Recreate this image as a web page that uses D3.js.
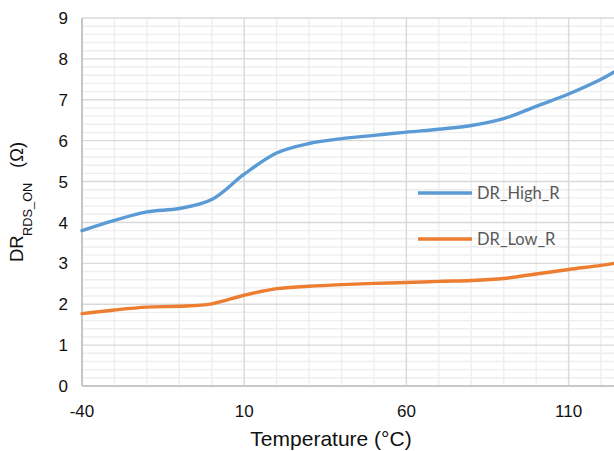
<!DOCTYPE html>
<html>
<head>
<meta charset="utf-8">
<script src="https://cdn.jsdelivr.net/npm/d3@7"></script>
<style>
  html, body { margin: 0; padding: 0; background: #fff; }
  svg { display: block; }
</style>
</head>
<body>
<div id="chart"></div>
<script>
// Temperature (°C) sample points
var temps = [-40, -30, -20, -10, 0, 10, 20, 30, 40, 50, 60, 70, 80, 90, 100, 110, 120, 124];
// DR_High_R (Ω)
var highR = [3.8, 4.05, 4.26, 4.34, 4.56, 5.18, 5.7, 5.93, 6.05, 6.13, 6.21, 6.28, 6.37, 6.54, 6.84, 7.14, 7.5, 7.68];
// DR_Low_R (Ω)
var lowR = [1.77, 1.86, 1.93, 1.95, 2.01, 2.22, 2.38, 2.44, 2.48, 2.51, 2.53, 2.56, 2.58, 2.63, 2.74, 2.85, 2.95, 3.0];

var xTicks = [-40, 10, 60, 110];
var yTicks = [0, 1, 2, 3, 4, 5, 6, 7, 8, 9];

var series = [
  { name: 'DR_High_R', values: highR, color: '#5b9bd5' },
  { name: 'DR_Low_R', values: lowR, color: '#ed7d31' }
];

var W = 614, H = 451;
var margin = { left: 82, right: 0, top: 18, bottom: 65 };
var FONT = 'Liberation Sans, Arial, sans-serif';

var svg = d3.select('#chart').append('svg')
  .attr('width', W)
  .attr('height', H);

var x = d3.scaleLinear().domain([-40, 124]).range([margin.left, W - margin.right]);
var y = d3.scaleLinear().domain([0, 9]).range([H - margin.bottom, margin.top]);

// minor grid
var minorX = d3.range(-40, 125, 10).filter(function(v) { return xTicks.indexOf(v) < 0; });
var minorY = d3.range(0, 9.001, 0.2).filter(function(v) { return Math.abs(v - Math.round(v)) > 0.01; });

var grid = svg.append('g');
grid.selectAll('line.mx').data(minorX).join('line')
  .attr('x1', function(d) { return x(d); }).attr('x2', function(d) { return x(d); })
  .attr('y1', y(0)).attr('y2', y(9))
  .attr('stroke', '#eeeeee').attr('stroke-width', 1.4);
grid.selectAll('line.my').data(minorY).join('line')
  .attr('y1', function(d) { return y(d); }).attr('y2', function(d) { return y(d); })
  .attr('x1', x(-40)).attr('x2', W)
  .attr('stroke', '#eeeeee').attr('stroke-width', 1.4);

// major grid
grid.selectAll('line.Mx').data(xTicks).join('line')
  .attr('x1', function(d) { return x(d); }).attr('x2', function(d) { return x(d); })
  .attr('y1', y(0)).attr('y2', y(9))
  .attr('stroke', '#d9d9d9').attr('stroke-width', 1.4);
grid.selectAll('line.My').data(yTicks).join('line')
  .attr('y1', function(d) { return y(d); }).attr('y2', function(d) { return y(d); })
  .attr('x1', x(-40)).attr('x2', W)
  .attr('stroke', '#d9d9d9').attr('stroke-width', 1.4);

// axis lines
svg.append('line')
  .attr('x1', x(-40)).attr('x2', x(-40)).attr('y1', y(0)).attr('y2', y(9))
  .attr('stroke', '#bfbfbf').attr('stroke-width', 1.6);
svg.append('line')
  .attr('x1', x(-40)).attr('x2', W).attr('y1', y(0)).attr('y2', y(0))
  .attr('stroke', '#bfbfbf').attr('stroke-width', 1.6);

// tick labels
svg.append('g').selectAll('text').data(yTicks).join('text')
  .attr('x', 68)
  .attr('y', function(d) { return y(d); })
  .attr('dy', '0.36em')
  .attr('text-anchor', 'end')
  .attr('font-family', FONT)
  .attr('font-size', 17)
  .attr('fill', '#111')
  .text(function(d) { return d; });

svg.append('g').selectAll('text').data(xTicks).join('text')
  .attr('x', function(d) { return x(d); })
  .attr('y', 417)
  .attr('text-anchor', 'middle')
  .attr('font-family', FONT)
  .attr('font-size', 17)
  .attr('fill', '#111')
  .text(function(d) { return d; });

// axis titles
svg.append('text')
  .attr('x', 331).attr('y', 446)
  .attr('text-anchor', 'middle')
  .attr('font-family', FONT)
  .attr('font-size', 21)
  .attr('fill', '#111')
  .text('Temperature (\u00b0C)');

// y title reads bottom-to-top
var yTitle = svg.append('text')
  .attr('transform', 'translate(23,262) rotate(-90)')
  .attr('text-anchor', 'start')
  .attr('font-family', FONT)
  .attr('font-size', 18.5)
  .attr('fill', '#111');
yTitle.append('tspan').attr('x', 0).text('DR');
yTitle.append('tspan').attr('x', 26).attr('dy', 9)
  .attr('font-size', 12.8)
  .text('RDS_ON');
yTitle.append('tspan').attr('x', 94).attr('dy', -9).text('(\u03a9)');

// lines
var line = d3.line().curve(d3.curveCatmullRom.alpha(0.5));
svg.append('g').selectAll('path').data(series).join('path')
  .attr('d', function(s) {
    return line(s.values.map(function(v, i) { return [x(temps[i]), y(v)]; }));
  })
  .attr('fill', 'none')
  .attr('stroke', function(s) { return s.color; })
  .attr('stroke-width', 3.4)
  .attr('stroke-linecap', 'round');

// legend
var legend = svg.append('g').selectAll('g').data(series).join('g')
  .attr('transform', function(s, i) { return 'translate(418,' + (193 + i * 46) + ')'; });
legend.append('line')
  .attr('x1', 0).attr('x2', 54)
  .attr('stroke', function(s) { return s.color; })
  .attr('stroke-width', 3.4);
legend.append('text')
  .attr('x', 59).attr('dy', '0.36em')
  .attr('font-family', 'Lato, "Open Sans", sans-serif')
  .attr('font-size', 16.5)
  .attr('fill', '#595959')
  .text(function(s) { return s.name; });
</script>
</body>
</html>
